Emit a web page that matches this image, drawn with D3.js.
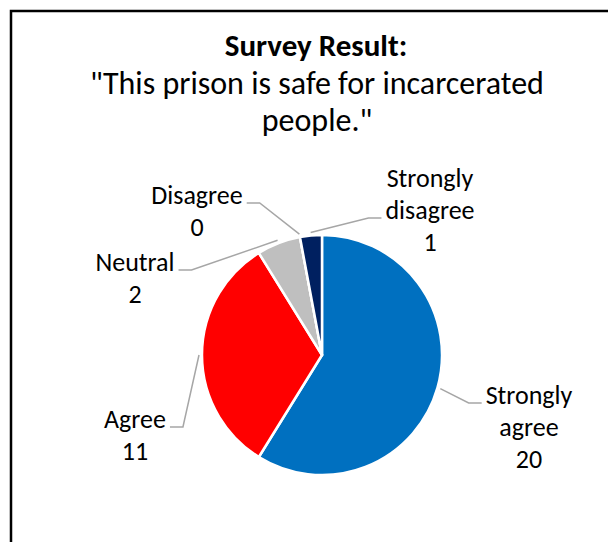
<!DOCTYPE html>
<html lang="en">
<head>
  <meta charset="UTF-8">
  <title>Survey Result</title>
  <script src="https://cdn.jsdelivr.net/npm/d3@7"></script>
  <style>
    html, body { margin: 0; padding: 0; background: #fff; }
    svg { display: block; }
  </style>
</head>
<body>
  <div id="chart"></div>
  <script>
    // data
    const categories = ['Strongly agree', 'Agree', 'Neutral', 'Disagree', 'Strongly disagree'];
    const counts = [20, 11, 2, 0, 1];
    const sliceColors = ['#0070C0', '#FF0000', '#BFBFBF', '#7F7F7F', '#002060'];
    const titleLines = ['Survey Result:', '"This prison is safe for incarcerated', 'people."'];

    // label layout (text centre x, first baseline y, line the leader joins, side)
    const labelX = [529, 135, 135, 197, 430];
    const labelY = [404, 428, 271, 204, 187];
    const labelJoin = [0, 0, 0, 0, 1];
    const labelSide = ['left', 'right', 'right', 'right', 'left'];

    const width = 608, height = 542;
    const cx = 322, cy = 355, radius = 120;
    const fontFamily = 'Carlito, Lato, "Open Sans", sans-serif';

    const svg = d3.select('#chart').append('svg')
      .attr('width', width)
      .attr('height', height);

    // frame
    svg.append('rect')
      .attr('x', 11).attr('y', 11)
      .attr('width', 700).attr('height', 700)
      .attr('fill', 'none')
      .attr('stroke', '#000')
      .attr('stroke-width', 2.5);

    // title
    const title = svg.append('text')
      .attr('text-anchor', 'middle')
      .attr('font-family', fontFamily)
      .attr('fill', '#000');
    title.append('tspan')
      .attr('x', 316).attr('y', 56)
      .attr('font-weight', 'bold')
      .attr('font-size', 31)
      .text(titleLines[0]);
    title.append('tspan')
      .attr('x', 317).attr('y', 94)
      .attr('font-size', 32)
      .text(titleLines[1]);
    title.append('tspan')
      .attr('x', 317).attr('y', 131)
      .attr('font-size', 32)
      .text(titleLines[2]);

    // pie
    const pie = d3.pie().sort(null).value(d => d);
    const arcs = pie(counts);
    const arc = d3.arc().innerRadius(0).outerRadius(radius);
    const leaderArc = d3.arc().innerRadius(radius + 3).outerRadius(radius + 3);

    const g = svg.append('g').attr('transform', `translate(${cx},${cy})`);
    g.selectAll('path.slice')
      .data(arcs)
      .enter()
      .append('path')
      .attr('class', 'slice')
      .attr('d', arc)
      .attr('fill', (d, i) => sliceColors[i])
      .attr('stroke', '#fff')
      .attr('stroke-width', 2.5)
      .attr('stroke-linejoin', 'round');

    // labels
    const labels = svg.append('g')
      .attr('font-family', fontFamily)
      .attr('font-size', 26)
      .attr('fill', '#000')
      .attr('text-anchor', 'middle');

    arcs.forEach((d, i) => {
      const words = categories[i].split(' ');
      const lines = words.length > 1 ? [words[0], words.slice(1).join(' ')] : [words[0]];
      lines.push(String(counts[i]));

      const t = labels.append('text');
      const spans = lines.map((line, k) => t.append('tspan')
        .attr('x', labelX[i])
        .attr('y', labelY[i] + k * 32)
        .text(line));

      // leader line from slice edge to the label
      const joinW = spans[labelJoin[i]].node().getComputedTextLength();
      const ly = labelY[i] + labelJoin[i] * 32 - 1;
      const endX = labelSide[i] === 'left' ? labelX[i] - joinW / 2 - 4 : labelX[i] + joinW / 2 + 4;
      const elbowX = labelSide[i] === 'left' ? endX - 13 : endX + 13;
      const c = leaderArc.centroid(d);
      svg.append('polyline')
        .attr('points', [[cx + c[0], cy + c[1]], [elbowX, ly], [endX, ly]].map(p => p.join(',')).join(' '))
        .attr('fill', 'none')
        .attr('stroke', '#A6A6A6')
        .attr('stroke-width', 1.5);
    });
  </script>
</body>
</html>
